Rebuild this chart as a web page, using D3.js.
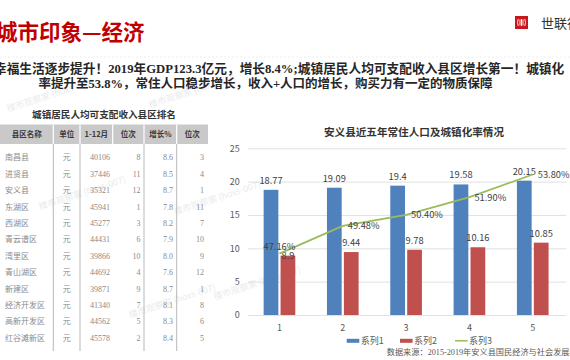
<!DOCTYPE html>
<html><head><meta charset="utf-8">
<script src="https://cdn.jsdelivr.net/npm/d3@7"></script>
<style>
html,body{margin:0;padding:0;background:#fff;overflow:hidden;}
svg{display:block;}
</style></head>
<body>
<script>
// ---------- data ----------
const pageTitle = "城市印象—经济";
const subLine1 = "幸福生活逐步提升！2019年GDP123.3亿元，增长8.4%;城镇居民人均可支配收入县区增长第一！城镇化";
const subLine2 = "率提升至53.8%，常住人口稳步增长，收入+人口的增长，购买力有一定的物质保障";
const brandName = "世联行";

const tableTitle = "城镇居民人均可支配收入县区排名";
const tableHeaders = ["县区名称", "单位", "1-12月", "位次", "增长%", "位次"];
const districts = ["南昌县","进贤县","安义县","东湖区","西湖区","青云谱区","湾里区","青山湖区","新建区","经济开发区","高新开发区","红谷滩新区"];
const units = ["元","元","元","元","元","元","元","元","元","元","元","元"];
const incomes = [40106,37446,35321,45941,45277,44431,39866,44692,39871,41340,44562,45578];
const incomeRanks = [8,11,12,1,3,6,10,4,9,7,5,2];
const growthRates = [8.6,8.5,8.7,7.8,8.2,7.9,8.0,7.6,8.7,8.1,8.3,8.4];
const growthRanks = [3,4,1,11,7,10,9,12,1,8,6,5];

const chartTitle = "安义县近五年常住人口及城镇化率情况";
const categories = ["1","2","3","4","5"];
const series1 = [18.77,19.09,19.4,19.58,20.15];   // 常住人口
const series2 = [8.9,9.44,9.78,10.16,10.85];      // 城镇人口
const series3 = [47.16,49.48,50.40,51.90,53.80];  // 城镇化率 %
const seriesNames = ["系列1","系列2","系列3"];
const yTicks = [0,5,10,15,20,25];
const sourceText = "数据来源：2015-2019年安义县国民经济与社会发展统计公报";
const watermark = "楼市观察家 (hoxs-007)";

// ---------- setup ----------
const W = 570, H = 360;
const svg = d3.select("body").append("svg").attr("width", W).attr("height", H);
const CJK = "'Noto Sans CJK SC','Noto Sans',sans-serif";
const SERIF = "'Liberation Serif','Noto Sans CJK SC',serif";
const RED = "#c00000";

// watermarks (faint)
[[8,112],[40,210],[130,318],[150,108],[175,215],[215,300]].forEach(p => {
  svg.append("text").attr("transform", `translate(${p[0]},${p[1]}) rotate(-18)`)
    .attr("font-family", CJK).attr("font-size", 9).attr("fill", "#ebebeb").text(watermark);
});

// page title
svg.append("text").attr("x", -4).attr("y", 39.5)
  .attr("font-family", CJK).attr("font-weight", 700).attr("font-size", 21.5)
  .attr("fill", RED).text(pageTitle);

// brand logo
const logo = svg.append("g").attr("transform", "translate(515,16)");
logo.append("rect").attr("width", 13).attr("height", 13).attr("fill", "#c8161d");
logo.append("path").attr("d", "M3.2,3 Q1.8,6.5 3.2,10 M9.8,3 Q11.2,6.5 9.8,10 M5,3.5 V9.5 M6.5,3 V10 M8,3.5 V9.5")
  .attr("stroke", "#fff").attr("stroke-width", 0.9).attr("fill", "none");
svg.append("text").attr("x", 541).attr("y", 27.5)
  .attr("font-family", CJK).attr("font-size", 13).attr("fill", "#333").text(brandName);

// faint separator
svg.append("line").attr("x1", 0).attr("x2", W).attr("y1", 57).attr("y2", 57)
  .attr("stroke", "#eeeeee").attr("stroke-dasharray", "2,2");

// subtitle
svg.append("text").attr("x", -6).attr("y", 73)
  .attr("font-family", SERIF).attr("font-weight", 700).attr("font-size", 12.7)
  .attr("fill", "#262626").text(subLine1);
svg.append("text").attr("x", 265.5).attr("y", 88).attr("text-anchor", "middle")
  .attr("font-family", SERIF).attr("font-weight", 700).attr("font-size", 12.5)
  .attr("fill", "#262626").text(subLine2);

// ---------- table ----------
const colEdges = [0, 53.3, 80, 112.7, 144, 176.7, 208];
const headTop = 124.5, headBot = 144;
const rowY = d3.scaleLinear().domain([0, 1]).range([157.3, 173.7]);

svg.append("text").attr("x", 104).attr("y", 118).attr("text-anchor", "middle")
  .attr("font-family", CJK).attr("font-weight", 700).attr("font-size", 9.6)
  .attr("fill", "#333").text(tableTitle);

svg.append("rect").attr("x", colEdges[0]).attr("y", headTop)
  .attr("width", colEdges[6] - colEdges[0]).attr("height", headBot - headTop).attr("fill", "#c9c9c9");
colEdges.slice(1, 6).forEach(x => {
  svg.append("line").attr("x1", x).attr("x2", x).attr("y1", headTop).attr("y2", headBot)
    .attr("stroke", "#fff").attr("stroke-width", 1.2);
});
tableHeaders.forEach((h, i) => {
  svg.append("text").attr("x", (colEdges[i] + colEdges[i + 1]) / 2).attr("y", 137)
    .attr("text-anchor", "middle").attr("font-family", CJK).attr("font-weight", 700)
    .attr("font-size", 7.5).attr("fill", "#3a3a3a").text(h);
});
[53.3, 80, 144, 176.7].forEach(x => {
  svg.append("line").attr("x1", x).attr("x2", x).attr("y1", headBot).attr("y2", 351)
    .attr("stroke", "#a6a6a6").attr("stroke-width", 0.8);
});
const rows = svg.append("g");
districts.forEach((d, i) => {
  const y = rowY(i) + 3;
  const cells = [
    [d, 5, "start", CJK],
    [units[i], 66.7, "middle", CJK],
    [String(incomes[i]), 110, "end", SERIF],
    [String(incomeRanks[i]), 140.5, "end", SERIF],
    [growthRates[i].toFixed(1), 173, "end", SERIF],
    [String(growthRanks[i]), 204, "end", SERIF]
  ];
  cells.forEach(c => {
    rows.append("text").attr("x", c[1]).attr("y", y).attr("text-anchor", c[2])
      .attr("font-family", c[3]).attr("font-size", 8).attr("fill", "#8a8a8a").text(c[0]);
  });
});

// ---------- chart ----------
const plotL = 247.8, plotR = 564.4, plotT = 148.3, plotB = 315;
const x = d3.scaleBand().domain(categories).range([plotL, plotR]).paddingInner(0.5).paddingOuter(0.25);
const xs = d3.scaleBand().domain([0, 1]).range([0, x.bandwidth()]).paddingInner(0.13);
const y = d3.scaleLinear().domain([0, 25]).range([plotB, plotT]);
const y2 = d3.scaleLinear().domain([42, 56]).range([plotB, plotT]);

svg.append("text").attr("x", 414).attr("y", 135.5).attr("text-anchor", "middle")
  .attr("font-family", CJK).attr("font-weight", 700).attr("font-size", 10.6)
  .attr("fill", "#333").text(chartTitle);

const yAxis = svg.append("g").attr("transform", `translate(${plotL},0)`)
  .call(d3.axisLeft(y).tickValues(yTicks).tickSize(-(plotR + 2 - plotL)).tickPadding(8));
yAxis.select(".domain").remove();
yAxis.selectAll(".tick line").attr("stroke", "#d9d9d9").attr("stroke-width", 0.8);
yAxis.selectAll(".tick text").attr("font-family", CJK).attr("font-size", 9).attr("fill", "#595959");

const xAxis = svg.append("g").attr("transform", `translate(0,${plotB})`)
  .call(d3.axisBottom(x).tickSize(0).tickPadding(10));
xAxis.select(".domain").remove();
xAxis.selectAll(".tick text").attr("font-family", CJK).attr("font-size", 9).attr("fill", "#595959");

const colors = ["#4f81bd", "#c0504d", "#9bbb59"];
const valFmt = v => String(v);

[series1, series2].forEach((s, si) => {
  svg.append("g").selectAll("rect").data(s).join("rect")
    .attr("x", (d, i) => x(categories[i]) + xs(si))
    .attr("y", d => y(d))
    .attr("width", xs.bandwidth())
    .attr("height", d => plotB - y(d))
    .attr("fill", colors[si]);
  svg.append("g").selectAll("text").data(s).join("text")
    .attr("x", (d, i) => x(categories[i]) + xs(si) + xs.bandwidth() / 2)
    .attr("y", (d, i) => y(d) + (si === 1 && i === 0 ? 3.5 : -6))
    .attr("text-anchor", "middle").attr("font-family", CJK).attr("font-size", 9.3)
    .attr("fill", "#404040").text(valFmt);
});

const cx = (d, i) => x(categories[i]) + x.bandwidth() / 2;
svg.append("path").datum(series3)
  .attr("d", d3.line().x(cx).y(d => y2(d)))
  .attr("fill", "none").attr("stroke", colors[2]).attr("stroke-width", 1.8);
svg.append("g").selectAll("text").data(series3).join("text")
  .attr("x", (d, i) => i === 0 ? cx(d, i) : cx(d, i) + 5)
  .attr("y", (d, i) => i === 0 ? y2(d) - 4 : y2(d) + 3.5)
  .attr("text-anchor", (d, i) => i === 0 ? "middle" : "start")
  .attr("font-family", CJK).attr("font-size", 9.3).attr("fill", "#404040")
  .text(d => d.toFixed(2) + "%");

// legend
const leg = svg.append("g");
const legX = [346.7, 400, 455];
seriesNames.forEach((n, i) => {
  if (i < 2) {
    leg.append("rect").attr("x", legX[i]).attr("y", 338.8).attr("width", 12.6).attr("height", 4).attr("fill", colors[i]);
  } else {
    leg.append("line").attr("x1", legX[i]).attr("x2", legX[i] + 12.6).attr("y1", 340.8).attr("y2", 340.8)
      .attr("stroke", colors[i]).attr("stroke-width", 1.5);
  }
  leg.append("text").attr("x", legX[i] + 14).attr("y", 344).attr("font-family", CJK)
    .attr("font-size", 9).attr("fill", "#595959").text(n);
});

svg.append("text").attr("x", 386.7).attr("y", 354.5).attr("font-family", SERIF)
  .attr("font-size", 8.2).attr("fill", "#595959").text(sourceText);
</script>
</body></html>
